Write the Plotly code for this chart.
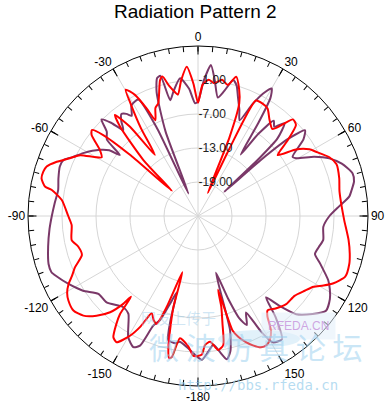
import plotly.graph_objects as go

# ---------------- data (angles in degrees, clockwise from top; values in dB) ----------------
red_theta = [0, 2, 4.5, 7, 10, 12.8, 15.3, 18, 20.1, 21.8, 23.1, 25, 26.6, 29.5, 32.9, 36.5,
             40.5, 42.5, 44.5, 47.1, 50, 52.6, 55.8, 59.1, 61.4, 65.9, 69.5, 75, 80, 86, 91.5,
             99, 104, 107.5, 112.4, 116.4, 119, 121.5, 125, 129.6, 135, 140, 143.6, 145.3,
             147.5, 150, 152, 154.4, 157, 159.2, 161.5, 163.2, 164.8, 165.6, 167.2, 168.9,
             171.4, 174.5, 176.9, 178.5, 181.9, 184.2, 188.4, 190.5, 191.5, 192.7, 194, 195.1,
             195.5, 199, 201, 203, 205.5, 207.5, 209.6, 212.8, 214.9, 217, 218.5, 219.7, 220.5,
             222.4, 225.5, 229, 232.8, 236.9, 239.5, 242.3, 244.4, 247.4, 251.5, 255.6, 259.2,
             265.9, 270, 276.7, 280.1, 280.9, 283.5, 286, 288.1, 291, 294.3, 297.3, 301.3, 304,
             307.3, 309, 310.5, 312, 313.9, 315.7, 318.9, 320.6, 322.7, 324.8, 327, 329, 330.2,
             332.5, 334.5, 336, 338.5, 340.6, 344.4, 345.7, 347.5, 349.5, 350.6, 353, 355.7, 358]
red_r = [-5.0, -1.8, -0.9, -1.4, -0.6, -1.3, 0.5, -1.5, -3.8, -10.0, -20.6, -12.0, -2.2, -2.1, -2.4, -3.8,
         -4.8, -3.3, -1.1, -1.4, -4.5, -7.3, -4.1, -2.1, -1.3, 0.4, 1.1, 0.8, 0.35, 0.4, 0.8,
         1.9, 2.6, 3.0, 3.1, 1.7, 0.3, -1.1, -2.0, -2.9, -3.0, -3.7, -4.3, -3.5,
         -1.0, 0.3, 0.8, 0.7, -0.2, -1.2, -2.5, -3.9, -11.5, -8.5, -5.5, -1.8,
         -1.1, -2.7, -2.2, -0.5, -0.3, -1.9, -3.2, 0.3, 0.6, -1.2, -5.0, -8.3,
         -14.7, -8.0, -4.6, -5.0, -6.0, -3.0, -0.7, 1.5, 1.1, -1.0, -2.9, -6.5, -4.5,
         -2.0, 0.1, 1.8, 2.6, 2.3, 1.8, 0.8, -0.3, -1.5, -3.4, -3.2, -2.3,
         -2.65, -2.1, -0.8, 1.2, 2.5, 3.4, 3.4, 3.1, 1.7, -0.2, -1.6, -5.1, -4.1,
         -1.4, -0.9, -3.0, -9.0, -18.6, -11.2, -4.1, -1.9, -5.2, -11.8, -6.5, -2.0, 0.7,
         -0.9, -4.0, -6.5, -4.5, -3.9, -0.1, 0.4, -1.5, -2.8, -3.3, -0.8, 1.4, -1.6]

purple_theta = [0, 2.5, 4.9, 7, 9.5, 11.8, 14.5, 16.5, 18.5, 21.3, 23.5, 26, 28, 30, 31.5, 33,
                34.8, 36.3, 38.5, 40.5, 43, 45.7, 46.7, 47.3, 48.3, 49.5, 51.3, 54, 57.9, 59.5,
                63, 66.3, 70, 74.6, 77.5, 80.4, 82.7, 86, 90, 94.9, 100.8, 104.5, 108, 111.2,
                116.2, 119, 122.2, 126.5, 130.5, 135, 137.8, 140.1, 142.5, 145.7, 149.4, 151.5,
                153.5, 155.9, 158, 160, 162.5, 164.3, 166.5, 168.6, 171, 173.2, 176, 178.5,
                181.2, 184, 188.2, 190, 193.5, 194.8, 195.6, 197.7, 200, 202.2, 204.1, 206.2,
                209.9, 215.4, 219.3, 226.6, 232, 237, 242.3, 246.8, 249, 252.2, 258.4, 265,
                270, 275, 280.5, 285, 289.7, 292.6, 295, 298.7, 304, 306.5, 308, 310, 312.7,
                315, 317, 319, 321, 323, 325, 326.5, 329, 332.9, 335, 336.9, 339, 341.5, 343.5,
                345, 346.5, 349, 352.6, 356, 358.5]
purple_r = [-4.8, -1.0, 1.75, -0.8, -3.8, -2.5, -0.2, -1.0, -2.8, -4.9, -6.6, -3.0, -0.5, 1.0, -0.5, -5.5,
            -11.8, -7.0, -3.5, -4.3, -2.6, -5.4, -10.0, -18.7, -10.0, -4.0, -0.8, -2.0, -5.3, -4.9,
            -2.0, 0.3, 2.0, 3.3, 3.2, 2.5, 1.9, 0.0, -1.8, -2.8, -2.5, -3.0, -3.3, -1.9,
            0.6, 1.6, 2.5, 3.1, 1.6, -0.5, -3.6, -6.3, -2.5, 1.3, 0.9, -2.0,
            -6.0, -3.9, -5.5, -9.5, -14.5, -4.1, -0.5, 0.8, -0.8, -2.1, -0.8, 0.4,
            -0.5, -1.5, -2.6, -2.2, -2.5, -6.0, -11.0, -8.7, -5.5, -4.1, 0.06, 0.8,
            -0.3, -3.8, -4.2, -2.8, -2.7, -0.8, 0.8, 2.1, 2.7, 2.7, 2.0, 1.3,
            0.8, 0.4, 0.1, 0.5, 0.9, 0.7, -0.5, -1.9, -4.1, -5.5, -7.5, -4.0, -3.1,
            -0.9, -2.5, -4.9, -3.5, -2.5, -3.0, -3.8, -2.2, -1.9, -8.0, -20.7, -9.0, -2.0, 0.4,
            0.6, -4.0, -2.5, -0.5, -2.5, -5.1]

angle_ticks = [0, 30, 60, 90, 120, 150, 180, 210, 240, 270, 300, 330]
angle_labels = ["0", "30", "60", "90", "120", "150", "-180", "-150", "-120", "-90", "-60", "-30"]
minor_ticks = list(range(0, 360, 5))
radial_ticks = [-19, -13, -7, -1]
radial_labels = ["-19.00", "-13.00", "-7.00", "-1.00"]
r_range = [-25, 5]

RED = "#ff0000"
PURPLE = "#7a3868"
FONT = "Liberation Sans, Arial, sans-serif"

W, H = 391, 410
cx, cy, R = 198, 216, 170
dom_x = [(cx - R) / W, (cx + R) / W]
dom_y = [(H - cy - R) / H, (H - cy + R) / H]

fig = go.Figure()
fig.add_trace(go.Scatterpolar(r=purple_r + [purple_r[0]], theta=purple_theta + [360],
                              mode="lines",
                              line=dict(color=PURPLE, width=2, shape="spline", smoothing=0.6),
                              subplot="polar", showlegend=False, hoverinfo="skip"))
fig.add_trace(go.Scatterpolar(r=red_r + [red_r[0]], theta=red_theta + [360],
                              mode="lines",
                              line=dict(color=RED, width=2, shape="spline", smoothing=0.6),
                              subplot="polar", showlegend=False, hoverinfo="skip"))
fig.add_trace(go.Scatterpolar(r=[None], theta=[None], mode="lines",
                              subplot="polar2", showlegend=False, hoverinfo="skip"))

grid = "#d6d6d6"
fig.update_layout(
    width=W, height=H, autosize=False,
    margin=dict(l=0, r=0, t=0, b=0),
    paper_bgcolor="white",
    polar=dict(
        domain=dict(x=dom_x, y=dom_y),
        bgcolor="white",
        angularaxis=dict(rotation=90, direction="clockwise", thetaunit="degrees",
                         tickmode="array", tickvals=angle_ticks, ticktext=angle_labels,
                         ticks="inside", ticklen=8, tickwidth=1, tickcolor="black",
                         showline=True, linecolor="black", linewidth=1,
                         gridcolor=grid, gridwidth=1,
                         tickfont=dict(family=FONT, size=12, color="black")),
        radialaxis=dict(range=r_range, tickmode="array", tickvals=radial_ticks,
                        ticktext=radial_labels, angle=90, tickangle=90,
                        showline=False, ticks="", gridcolor=grid, gridwidth=1,
                        tickfont=dict(family=FONT, size=12, color="#222222")),
    ),
    polar2=dict(
        domain=dict(x=dom_x, y=dom_y),
        bgcolor="rgba(0,0,0,0)",
        angularaxis=dict(rotation=90, direction="clockwise", thetaunit="degrees",
                         tickmode="array", tickvals=minor_ticks, ticks="inside",
                         ticklen=5, tickwidth=1, tickcolor="black",
                         showticklabels=False, showgrid=False, showline=False),
        radialaxis=dict(range=r_range, visible=False),
    ),
)

# faint watermark swoosh (decorative)
fig.add_shape(type="circle", xref="paper", yref="paper",
              x0=218 / W, x1=300 / W, y0=1 - 348 / H, y1=1 - 330 / H,
              fillcolor="rgba(170,215,240,0.35)", line=dict(width=0), layer="above")

annotations = [
    dict(text="Radiation Pattern 2", x=0.5, y=1 - 11 / H, xref="paper", yref="paper",
         showarrow=False, xanchor="center", yanchor="middle",
         font=dict(family=FONT, size=19, color="black")),
    dict(text="网友上传于", x=178 / W, y=1 - 330 / H, xref="paper", yref="paper",
         showarrow=False, font=dict(family="Noto Sans CJK SC", size=15,
                                    color="rgba(150,200,230,0.45)")),
    dict(text="RFEDA.CN", x=336 / W, y=1 - 340 / H, xref="paper", yref="paper",
         showarrow=False, bgcolor="rgba(225,238,250,0.55)", borderpad=6,
         font=dict(family=FONT, size=12, color="rgba(200,150,220,0.85)")),
    dict(text="微 波 仿 真 论 坛", x=256 / W, y=1 - 370 / H, xref="paper", yref="paper",
         showarrow=False, font=dict(family="Noto Sans CJK SC", size=30,
                                    color="rgba(150,205,238,0.5)")),
    dict(text="http://bbs.rfeda.cn", x=258 / W, y=1 - 395 / H, xref="paper", yref="paper",
         showarrow=False, font=dict(family="DejaVu Sans Mono", size=14,
                                    color="rgba(150,205,235,0.7)")),
]
fig.update_layout(annotations=annotations)

fig.write_html("out.html", config={"displayModeBar": False},
               post_script="document.body.style.margin='0';document.body.style.overflow='hidden';")
